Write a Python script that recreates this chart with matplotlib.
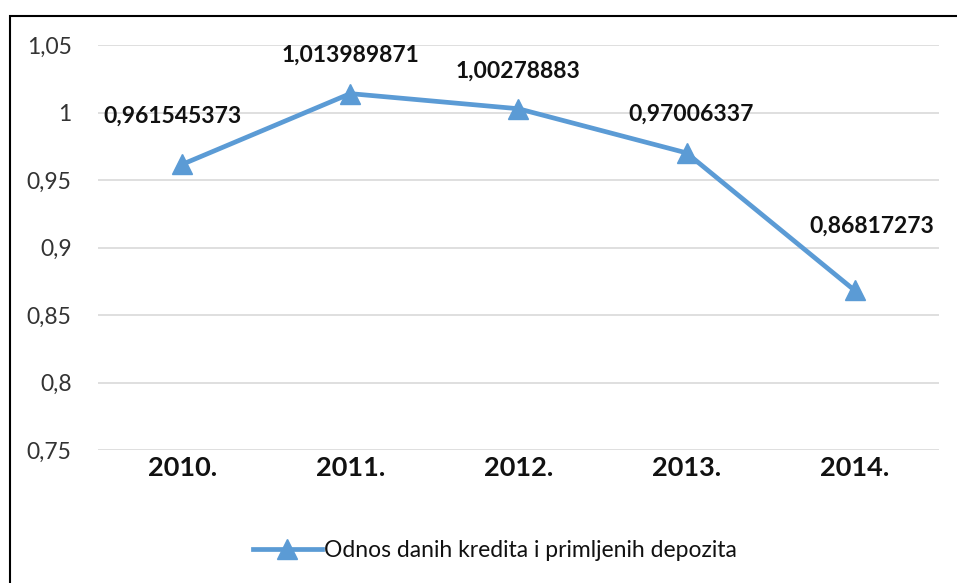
import matplotlib
matplotlib.use("Agg")
import matplotlib.pyplot as plt
from matplotlib.patches import Rectangle

years = ["2010.", "2011.", "2012.", "2013.", "2014."]
ratio = [0.961545373, 1.013989871, 1.00278883, 0.97006337, 0.86817273]
labels = ["0,961545373", "1,013989871", "1,00278883", "0,97006337", "0,86817273"]
yticks = [0.75, 0.8, 0.85, 0.9, 0.95, 1.0, 1.05]
ytick_labels = ["0,75", "0,8", "0,85", "0,9", "0,95", "1", "1,05"]
series_name = "Odnos danih kredita i primljenih depozita"

BLUE = "#5B9BD5"
plt.rcParams["font.family"] = ["Lato", "DejaVu Sans"]

fig = plt.figure(figsize=(9.57, 5.83), dpi=100)
ax = fig.add_axes([0.1024, 0.2281, 0.8786, 0.6947])

x = list(range(len(years)))
ax.plot(x, ratio, color=BLUE, lw=3.4, marker="^", markersize=14,
        label=series_name, zorder=3)

# data labels, offsets in points
offsets = [(-7, 35), (0, 28), (0, 27), (3, 28), (12, 46)]
for xi, yi, lab, off in zip(x, ratio, labels, offsets):
    ax.annotate(lab, (xi, yi), xytext=off, textcoords="offset points",
                ha="center", va="center", fontsize=16.5, fontweight="bold",
                color="#111111")

ax.set_xlim(-0.5, len(years) - 0.5)
ax.set_ylim(0.75, 1.05)
ax.set_yticks(yticks)
ax.set_yticklabels(ytick_labels, fontsize=16.5, color="#333333")
ax.set_xticks(x)
ax.set_xticklabels(years, fontsize=19.5, fontweight="bold", color="#111111")
ax.tick_params(axis="both", length=0)
ax.tick_params(axis="y", pad=19)
ax.tick_params(axis="x", pad=4)
ax.grid(axis="y", color="#d9d9d9", lw=1.2)
ax.set_axisbelow(True)
for s in ax.spines.values():
    s.set_visible(False)

fig.legend(loc="center", bbox_to_anchor=(0.517, 0.055), frameon=False,
           fontsize=16.5, handlelength=3.0, handletextpad=0.1,
           labelcolor="#111111")

# outer border (only top and left visible in the reference)
fig.add_artist(Rectangle((10 / 957, -0.1), 1.2, 1.1 - 16 / 583,
                         transform=fig.transFigure, fill=False,
                         edgecolor="black", lw=1.5))

fig.savefig("out.png", dpi=100)
